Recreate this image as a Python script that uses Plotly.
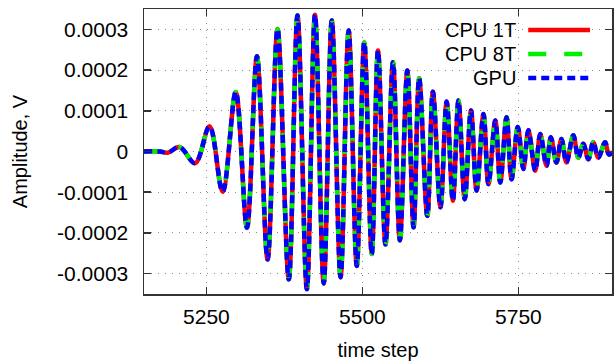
import plotly.graph_objects as go

# ---- data ----
time_step = [5150, 5175, 5188, 5207, 5232, 5255, 5276, 5297, 5315, 5331, 5348, 5364, 5382,
             5396, 5411, 5424, 5438, 5451, 5465, 5478, 5491, 5503, 5515, 5525, 5537, 5549,
             5560, 5572, 5582, 5591, 5604, 5613, 5625, 5635, 5645, 5654, 5664, 5674, 5683,
             5694, 5702, 5713, 5721, 5731, 5739, 5749, 5758, 5766, 5777, 5785, 5795, 5802,
             5811, 5819, 5827, 5838, 5846, 5854, 5862, 5870, 5878, 5889, 5895, 5903]
cpu_1t = [0.0, 0.0, -0.000003, 0.000011, -0.0000285, 0.000062, -0.000099, 0.000146, -0.000187,
          0.000234, -0.000265, 0.000301, -0.000314, 0.000334, -0.000338, 0.000336, -0.000324,
          0.000322, -0.000309, 0.000297, -0.000281, 0.000268, -0.000252, 0.000248, -0.000228,
          0.000219, -0.000218, 0.000199, -0.000186, 0.000180, -0.000158, 0.000147, -0.000137,
          0.000123, -0.000121, 0.000125, -0.000117, 0.000101, -0.000096, 0.000092, -0.000080,
          0.000076, -0.000076, 0.000084, -0.000068, 0.000060, -0.000043, 0.000052, -0.000047,
          0.000043, -0.000035, 0.000035, -0.000027, 0.000031, -0.000027, 0.000040, -0.000015,
          0.000019, -0.000019, 0.000023, -0.000015, 0.000023, -0.000007, 0.0]
cpu_8t = list(cpu_1t)
gpu = list(cpu_1t)

series_names = ["CPU 1T", "CPU 8T", "GPU"]
series_colors = ["#ff0000", "#00ee00", "#0000ff"]
series_dash = ["solid", "18px,18px", "8px,5px"]

y_tick_vals = [0.0003, 0.0002, 0.0001, 0, -0.0001, -0.0002, -0.0003]
y_tick_text = ["0.0003", "0.0002", "0.0001", "0", "-0.0001", "-0.0002", "-0.0003"]
x_tick_vals = [5250, 5500, 5750]

FONT = "Liberation Sans, Arial, sans-serif"

fig = go.Figure()
for name, ys, col, dash in zip(series_names, [cpu_1t, cpu_8t, gpu], series_colors, series_dash):
    fig.add_trace(go.Scatter(x=time_step, y=ys, mode="lines", name=name,
                             line=dict(color=col, width=4.5, dash=dash, shape="spline", smoothing=1.0),
                             showlegend=False, hoverinfo="skip"))

# legend drawn manually (text left of sample, as in reference)
leg_y = [0.926, 0.842, 0.758]
for name, col, dash, yy in zip(series_names, series_colors, series_dash, leg_y):
    fig.add_annotation(xref="paper", yref="paper", x=0.80, y=yy, text=name, showarrow=False,
                       xanchor="right", yanchor="middle", font=dict(size=20, color="black", family=FONT))
    fig.add_shape(type="line", xref="paper", yref="paper", x0=0.821, x1=0.953, y0=yy, y1=yy,
                  line=dict(color=col, width=4.5, dash=dash))

axis_common = dict(showline=True, linecolor="#333333", linewidth=1.5, mirror="ticks",
                   ticks="inside", ticklen=7, tickcolor="#333333", tickwidth=1.5,
                   showgrid=True, gridcolor="#888888", gridwidth=1, griddash="1px,6px",
                   zeroline=False, tickfont=dict(size=21, color="black", family=FONT))

fig.update_xaxes(range=[5150, 5900], tickvals=x_tick_vals, ticklabelstandoff=3,
                 title=dict(text="time step", font=dict(size=20, color="black", family=FONT), standoff=16),
                 **axis_common)
fig.update_yaxes(range=[-0.00035, 0.00035], tickvals=y_tick_vals, ticktext=y_tick_text,
                 ticklabelstandoff=10,
                 title=dict(text="Amplitude, V", font=dict(size=20, color="black", family=FONT), standoff=24),
                 **axis_common)

fig.update_layout(width=616, height=364, margin=dict(l=144, r=2, t=9, b=70),
                  plot_bgcolor="white", paper_bgcolor="white",
                  font=dict(family=FONT, size=20, color="black"))

fig.write_html("out.html", config={"displayModeBar": False, "staticPlot": True})

# remove the default page margin so the figure sits at the window's top-left corner
with open("out.html", "r", encoding="utf-8") as f:
    html = f.read()
html = html.replace("<head>", "<head><style>html,body{margin:0;padding:0;overflow:hidden;}</style>", 1)
with open("out.html", "w", encoding="utf-8") as f:
    f.write(html)
